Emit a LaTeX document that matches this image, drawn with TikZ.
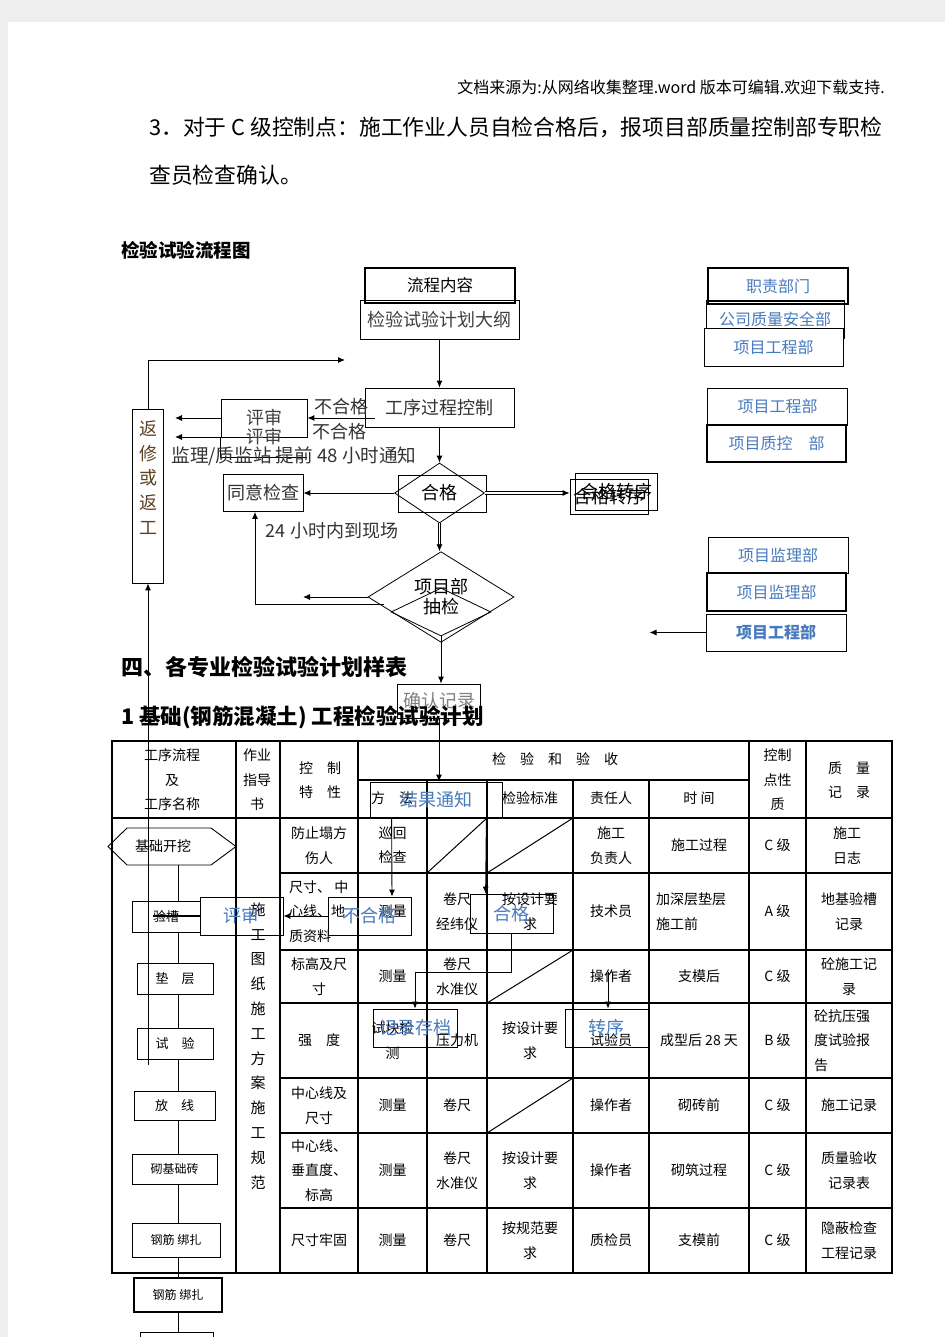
\documentclass[tikz,border=0pt]{standalone}
\usepackage{fontspec}
\setmainfont{Noto Sans CJK SC}
\usepackage{tikz}
\usetikzlibrary{shapes.geometric,arrows.meta,calc,positioning}

\definecolor{deptblue}{RGB}{72,122,190}
\definecolor{pagegray}{RGB}{238,238,238}
\definecolor{reworkbrown}{RGB}{95,65,35}

\begin{document}
\begin{tikzpicture}[x=1pt,y=-1pt,
    box/.style={draw, line width=0.8pt, inner sep=0pt, font=\fontsize{18}{20}\selectfont},
    dept/.style={draw, line width=1pt, inner sep=0pt, text=deptblue, font=\fontsize{16}{18}\selectfont},
    flag/.style={draw, line width=0.8pt, inner sep=0pt, text=deptblue, font=\fontsize{18}{20}\selectfont, minimum width=83, minimum height=38},
    stepbox/.style={draw, line width=1pt, inner sep=0pt, font=\fontsize{13}{15}\selectfont},
    cell/.style={inner sep=0pt, align=center, font=\fontsize{14}{24.5}\selectfont},
    plain/.style={inner sep=0pt, font=\fontsize{18}{20}\selectfont},
    arr/.style={-{Latex[length=7pt,width=6pt]}, line width=0.9pt},
    rule/.style={line width=1.3pt}]
    % Page
    \fill[pagegray] (0,0) rectangle (945,1337);
    \fill[white] (8,22) rectangle (945,1337);
    \useasboundingbox (0,0) rectangle (945,1337);

    % Text above the chart
    \node[anchor=east, inner sep=0pt, font=\fontsize{16}{18}\selectfont] (srcnote) at (885,87) {文档来源为:从网络收集整理.word 版本可编辑.欢迎下载支持.};
    \node[anchor=west, inner sep=0pt, font=\fontsize{21.8}{24}\selectfont] (para1) at (149,127) {3．对于 C 级控制点：施工作业人员自检合格后，报项目部质量控制部专职检};
    \node[anchor=west, inner sep=0pt, font=\fontsize{21.8}{24}\selectfont] (para2) at (149,175) {查员检查确认。};
    \node[anchor=west, inner sep=0pt, font=\bfseries\fontsize{18.5}{20}\selectfont] (flowtitle) at (121,250) {检验试验流程图};

    % Flow: plan and process
    \node[box, minimum width=150, minimum height=35, line width=1.6pt, font=\fontsize{16.5}{18}\selectfont] (content) at (440,285.5) {流程内容};
    \node[box, minimum width=159, minimum height=39, text=black!75] (plan) at (439.5,319.5) {检验试验计划大纲};
    \node[box, minimum width=149, minimum height=39, text=black!80] (process) at (439.5,407.5) {工序过程控制};
    \node[plain, text=black!80] (failA) at (341,407) {不合格};
    \node[plain, text=black!80] (failB) at (339,432) {不合格};
    \draw[arr] (plan) -- (process);

    % Review and rework
    \node[box, minimum width=86, minimum height=38, text=black!75] (review) at (264,418) {评审};
    \node[plain, text=black!75] (reviewB) at (264,437) {评审};
    \draw[line width=1.6pt] (review.south west) -- ++(0,20) -- ++(86,0);
    \draw[arr] ([xshift=10pt,yshift=-10.5pt]process.west) -- (review.east);
    \coordinate (retA) at (175,418); \coordinate (retB) at (175,437);
    \draw[arr] (review.west) -- (retA);
    \draw[arr] (review.west |- reviewB) -- (retB);
    \node[plain, text=black!80, font=\fontsize{18.6}{20}\selectfont] (notice) at (294,456) {监理/质监站 提前 48 小时通知};
    \node[box, minimum width=31, minimum height=174] (rework) at (148,496) {};
    \node[inner sep=0pt, align=center, text=reworkbrown, font=\fontsize{18}{24.8}\selectfont] (reworktext) at (148,477.5) {返\\修\\或\\返\\工};
    \coordinate (loopend) at (345,360);
    \draw[arr] (rework.north) |- (loopend);

    % Self check diamond
    \draw[line width=0.8pt] (398,475) rectangle (486,512);
    \node[draw, diamond, line width=0.8pt, minimum width=90, minimum height=60, inner sep=0pt, font=\fontsize{18}{20}\selectfont] (pass1) at (439.5,493) {合格};
    \draw[arr] (process) -- (pass1);
    \node[box, minimum width=80, minimum height=37, text=black!80] (agree) at (263,493) {同意检查};
    \draw[arr] (pass1.west) -- (agree.east);
    \node[box, minimum width=82, minimum height=37] (transA) at (616,491.5) {合格转序};
    \node[box, minimum width=78, minimum height=35] (transB) at (609,497) {合格转序};
    \draw[arr, double, double distance=1.6pt] (pass1.east) -- (pass1.east -| transB.west);

    % Project check diamond
    \node[draw, diamond, line width=0.8pt, minimum width=100, minimum height=48] (check2) at (441,612) {};
    \node[draw, diamond, line width=0.8pt, minimum width=146, minimum height=64, inner sep=0pt, align=center, font=\fontsize{18}{20}\selectfont] (check) at (441,597) {项目部\\抽检};
    \draw[arr, double, double distance=1.6pt] (pass1.south) -- (pass1.south |- check.north);
    \coordinate (checkout) at (303,597);
    \draw[arr] (check.west) -- (checkout);
    \draw[arr] ([xshift=16pt,yshift=-7pt]check.west) -| ([xshift=-8pt]agree.south);
    \node[plain, text=black!80] (onsite) at (332,531) {24 小时内到现场};
    \node[box, minimum width=83, minimum height=34, text=black!50] (confirm) at (439,701) {确认记录};
    \draw[arr] (check2.south) -- (check2.south |- confirm.north);

    % Departments
    \node[dept, minimum width=140, minimum height=36, line width=1.6pt] (duty) at (778,286) {职责部门};
    \node[dept, minimum width=138, minimum height=37] (company) at (775,319.5) {公司质量安全部};
    \node[dept, fill=white, minimum width=139, minimum height=38] (eng1) at (773.5,347) {项目工程部};
    \node[dept, minimum width=140, minimum height=37] (eng2) at (777.5,406.5) {项目工程部};
    \node[dept, minimum width=139, minimum height=37, line width=1.4pt] (qc) at (776.5,443.5) {项目质控\quad 部};
    \node[dept, minimum width=140, minimum height=36] (sup1) at (778,555) {项目监理部};
    \node[dept, minimum width=139, minimum height=38, line width=1.4pt] (sup2) at (776.5,592) {项目监理部};
    \node[dept, minimum width=140, minimum height=37, font=\bfseries\fontsize{16}{18}\selectfont] (eng3) at (776,632.5) {项目工程部};
    \draw[arr] (eng3.west) -- ++(-56,0);

    % Section titles
    \node[anchor=west, inner sep=0pt, font=\bfseries\fontsize{22}{24}\selectfont] (sectitle) at (121,667) {四、各专业检验试验计划样表};
    \node[anchor=west, inner sep=0pt, font=\bfseries\fontsize{21.5}{24}\selectfont] (plantitle) at (121,717) {1 基础(钢筋混凝土) 工程检验试验计划};

    % Table grid
    \draw[line width=1.8pt] (112,741) rectangle (892,1273);
    \foreach \x in {236,280,358,749,806} \draw[rule] (\x,741) -- (\x,1273);
    \foreach \x in {427,487,573,649} \draw[rule] (\x,780) -- (\x,1273);
    \draw[rule] (358,780) -- (749,780);
    \draw[rule] (112,818) -- (892,818);
    \foreach \y in {873,950,1003,1078,1133,1208} \draw[rule] (280,\y) -- (892,\y);
    \draw[line width=1pt] (427,873) -- (487,818); \draw[line width=1pt] (487,873) -- (573,818);
    \draw[line width=1pt] (487,1003) -- (573,950); \draw[line width=1pt] (487,1133) -- (573,1078);

    % Table header
    \node[cell] (hd1) at (172,780) {工序流程\\及\\工序名称};
    \node[cell] (hd2) at (257,780) {作业\\指导\\书};
    \node[cell] (hd3) at (320,780) {控\quad 制\\特\quad 性};
    \node[cell] (hd4) at (555,759) {检\quad 验\quad 和\quad 验\quad 收};
    \node[cell] (hd5) at (392,798) {方\quad 法};
    \node[cell] (hd6) at (530,798) {检验标准};
    \node[cell] (hd7) at (611,798) {责任人};
    \node[cell] (hd8) at (699,798) {时\ 间};
    \node[cell] (hd9) at (777.5,780) {控制\\点性\\质};
    \node[cell] (hd10) at (849,780) {质\quad 量\\记\quad 录};
    \node[cell, font=\fontsize{15}{24.8}\selectfont] (guide) at (258,1046) {施\\工\\图\\纸\\施\\工\\方\\案\\施\\工\\规\\范};

    % Table rows
    \node[cell] (r1a) at (319,845.5) {防止塌方\\伤人};
    \node[cell] (r1b) at (392.5,845.5) {巡回\\检查};
    \node[cell] (r1e) at (611,845.5) {施工\\负责人};
    \node[cell] (r1f) at (699,845.5) {施工过程};
    \node[cell] (r1g) at (777.5,845.5) {C 级};
    \node[cell] (r1h) at (847,845.5) {施工\\日志};
    \node[cell, anchor=west, align=left] (r2a) at (289,911.5) {尺寸、\ 中\\心线、地\\质资料};
    \node[cell] (r2b) at (392.5,911.5) {测量};
    \node[cell] (r2c) at (457,911.5) {卷尺\\经纬仪};
    \node[cell] (r2d) at (530,911.5) {按设计要\\求};
    \node[cell] (r2e) at (611,911.5) {技术员};
    \node[cell, anchor=west, align=left] (r2f) at (656,911.5) {加深层垫层\\施工前};
    \node[cell] (r2g) at (777.5,911.5) {A 级};
    \node[cell] (r2h) at (849,911.5) {地基验槽\\记录};
    \node[cell] (r3a) at (319,976.5) {标高及尺\\寸};
    \node[cell] (r3b) at (392.5,976.5) {测量};
    \node[cell] (r3c) at (457,976.5) {卷尺\\水准仪};
    \node[cell] (r3e) at (611,976.5) {操作者};
    \node[cell] (r3f) at (699,976.5) {支模后};
    \node[cell] (r3g) at (777.5,976.5) {C 级};
    \node[cell] (r3h) at (849,976.5) {砼施工记\\录};
    \node[cell] (r4a) at (319,1040.5) {强\quad 度};
    \node[cell] (r4b) at (392.5,1040.5) {试块检\\测};
    \node[cell] (r4c) at (457,1040.5) {压力机};
    \node[cell] (r4d) at (530,1040.5) {按设计要\\求};
    \node[cell] (r4e) at (611,1040.5) {试验员};
    \node[cell] (r4f) at (699,1040.5) {成型后 28 天};
    \node[cell] (r4g) at (777.5,1040.5) {B 级};
    \node[cell, anchor=west, align=left] (r4h) at (814,1040.5) {砼抗压强\\度试验报\\告};
    \node[cell] (r5a) at (319,1105.5) {中心线及\\尺寸};
    \node[cell] (r5b) at (392.5,1105.5) {测量};
    \node[cell] (r5c) at (457,1105.5) {卷尺};
    \node[cell] (r5e) at (611,1105.5) {操作者};
    \node[cell] (r5f) at (699,1105.5) {砌砖前};
    \node[cell] (r5g) at (777.5,1105.5) {C 级};
    \node[cell] (r5h) at (849,1105.5) {施工记录};
    \node[cell] (r6a) at (319,1170.5) {中心线、\\垂直度、\\标高};
    \node[cell] (r6b) at (392.5,1170.5) {测量};
    \node[cell] (r6c) at (457,1170.5) {卷尺\\水准仪};
    \node[cell] (r6d) at (530,1170.5) {按设计要\\求};
    \node[cell] (r6e) at (611,1170.5) {操作者};
    \node[cell] (r6f) at (699,1170.5) {砌筑过程};
    \node[cell] (r6g) at (777.5,1170.5) {C 级};
    \node[cell] (r6h) at (849,1170.5) {质量验收\\记录表};
    \node[cell] (r7a) at (319,1240.5) {尺寸牢固};
    \node[cell] (r7b) at (392.5,1240.5) {测量};
    \node[cell] (r7c) at (457,1240.5) {卷尺};
    \node[cell] (r7d) at (530,1240.5) {按规范要\\求};
    \node[cell] (r7e) at (611,1240.5) {质检员};
    \node[cell] (r7f) at (699,1240.5) {支模前};
    \node[cell] (r7g) at (777.5,1240.5) {C 级};
    \node[cell] (r7h) at (849,1240.5) {隐蔽检查\\工程记录};

    % Work steps in first column
    \coordinate (spine) at (178,0);
    \node[inner sep=0pt, minimum height=37, font=\fontsize{14}{16}\selectfont] (dig) at (163,846.5) {基础开挖};
    \draw[line width=0.9pt] (108,846.5) -- (127,828) -- (211,828) -- (236,846.5) -- (211,865) -- (127,865) -- cycle;
    \node[stepbox, minimum width=68, minimum height=31] (trench) at (166,916.5) {验槽};
    \node[stepbox, minimum width=76, minimum height=31] (cushion) at (175,978.5) {垫\quad 层};
    \node[stepbox, minimum width=76, minimum height=31] (trial) at (175,1043.5) {试\quad 验};
    \node[stepbox, minimum width=81, minimum height=29] (setout) at (174.5,1105.5) {放\quad 线};
    \node[stepbox, minimum width=85, minimum height=30, font=\fontsize{12}{14}\selectfont] (brick) at (174.5,1169) {砌基础砖};
    \node[stepbox, minimum width=88, minimum height=34, font=\fontsize{12}{14}\selectfont] (rebarA) at (176,1240) {钢筋\ 绑扎};
    \node[stepbox, minimum width=88, minimum height=34, line width=1.4pt, font=\fontsize{12}{14}\selectfont] (rebarB) at (178,1295) {钢筋\ 绑扎};
    \coordinate (nextstep) at (178,1332);
    \draw[line width=1pt] (140,1337) -- (140,1332) -- (213,1332) -- (213,1337);
    \draw (dig.south -| spine) -- (trench.north -| spine);
    \draw (trench.south -| spine) -- (cushion.north -| spine);
    \draw (cushion.south -| spine) -- (trial.north -| spine);
    \draw (trial.south -| spine) -- (setout.north -| spine);
    \draw (setout.south -| spine) -- (brick.north -| spine);
    \draw (brick.south -| spine) -- (rebarA.north -| spine);
    \draw (rebarA.south -| spine) -- (rebarB.north -| spine);
    \draw (rebarB.south -| spine) -- (nextstep);
    \coordinate (retbase) at (148,1065);
    \draw[arr] (retbase) -- (rework.south);

    % Overlaid result boxes
    \node[flag, minimum width=132, minimum height=36] (notify) at (436,800) {结果通知};
    \draw[arr] (confirm.south) -- (confirm.south |- notify.north);
    \node[flag] (fail2) at (369.5,916) {不合格};
    \node[flag, minimum height=39] (pass2) at (511.5,913.5) {合格};
    \node[flag] (review3) at (241.5,916) {评审};
    \node[flag, minimum width=84] (archive) at (415,1028) {记录存档};
    \node[flag] (turn) at (606.5,1028) {转序};
    \draw[arr] ($(notify.south west)+(22,0)$) -- ($(fail2.north)+(22.5,0)$);
    \draw[arr] ($(notify.south east)+(-16,0)$) -- ($(pass2.north west)+(16,0)$);
    \draw[arr] (fail2.west) -- (review3.east);
    \draw[line width=1.5pt] (review3.west) -- ++(-47,0);
    \draw[arr] (pass2.south) -- ++(0,39) -| (archive.north);
    \coordinate (turnin) at (608,972);
    \draw[arr] (turnin) -- (turnin |- turn.north);
\end{tikzpicture}
\end{document}
